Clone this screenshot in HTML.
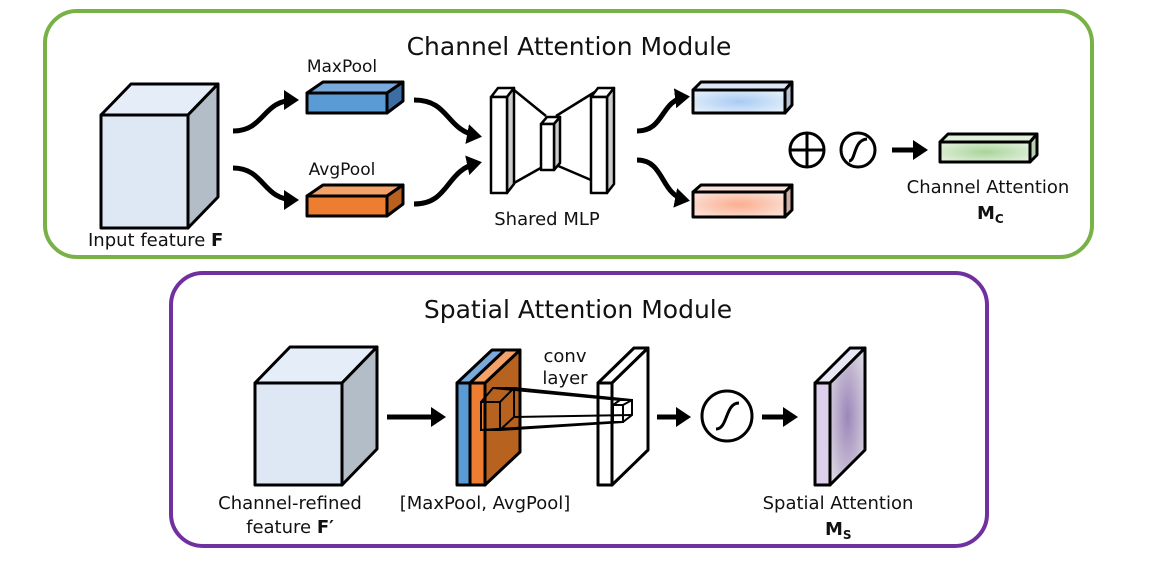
<!DOCTYPE html>
<html><head><meta charset="utf-8"><style>
html,body{margin:0;padding:0;background:#fff;}
svg{display:block;}
text{font-family:"DejaVu Sans","Liberation Sans",sans-serif;fill:#111;}
</style></head><body>
<svg width="1163" height="572" viewBox="0 0 1163 572" xmlns="http://www.w3.org/2000/svg">
<defs>
<marker id="ah" markerWidth="4" markerHeight="4" refX="2.2" refY="2" orient="auto" markerUnits="strokeWidth"><path d="M0,0 L3,2 L0,4 z" fill="#000"/></marker>
<radialGradient id="gb" cx="0.5" cy="0.5" r="0.6"><stop offset="0" stop-color="#a8cbf4"/><stop offset="1" stop-color="#e3eefa"/></radialGradient>
<radialGradient id="go" cx="0.5" cy="0.5" r="0.6"><stop offset="0" stop-color="#fbae8e"/><stop offset="1" stop-color="#fbe0d6"/></radialGradient>
<radialGradient id="gg" cx="0.5" cy="0.5" r="0.6"><stop offset="0" stop-color="#a9d49a"/><stop offset="1" stop-color="#e0f0da"/></radialGradient>
<radialGradient id="gp" cx="0.5" cy="0.5" r="0.6"><stop offset="0" stop-color="#9d86b8"/><stop offset="1" stop-color="#d8d4e0"/></radialGradient>
</defs>
<g stroke="#000" stroke-width="3" stroke-linejoin="round">
<rect x="45" y="11" width="1047" height="246" rx="32" fill="none" stroke="#78b145" stroke-width="4"/>
<rect x="171" y="273" width="816" height="273" rx="32" fill="none" stroke="#7030a0" stroke-width="4"/>

<polygon points="101,115 131,84 218,84 188,115" fill="#e5eef8"/>
<polygon points="188,115 218,84 218,197 188,228" fill="#b3bdc8"/>
<rect x="101" y="115" width="87" height="113" fill="#dde8f4"/>

<polygon points="307,93 323,82 403,82 387,93" fill="#7aa9dc"/>
<polygon points="387,93 403,82 403,101 387,113" fill="#3b6ea5"/>
<rect x="307" y="93" width="80" height="20" fill="#5b9bd5"/>
<polygon points="307,196 323,185 403,185 387,196" fill="#f4a269"/>
<polygon points="387,196 403,185 403,204 387,216" fill="#b8611f"/>
<rect x="307" y="196" width="80" height="20" fill="#ed7d31"/>
</g>
<g fill="none" stroke="#000" stroke-width="5">
<path d="M233,131 C265,131 262,100 295,100" marker-end="url(#ah)"/>
<path d="M233,168 C265,168 262,200 295,200" marker-end="url(#ah)"/>
<path d="M414,100 C450,100 445,130 478,136" marker-end="url(#ah)"/>
<path d="M414,204 C450,204 445,170 478,163" marker-end="url(#ah)"/>
<path d="M637,131 C665,131 660,100 686,97" marker-end="url(#ah)"/>
<path d="M637,160 C665,160 660,195 686,200" marker-end="url(#ah)"/>
<path d="M892,150 L924,150" marker-end="url(#ah)"/>
</g>
<g stroke="#000" stroke-width="2.5" fill="#fff" stroke-linejoin="round">
<line x1="514" y1="90" x2="546" y2="116"/><line x1="514" y1="183" x2="546" y2="165"/>
<line x1="556" y1="116" x2="598" y2="90"/><line x1="556" y1="165" x2="598" y2="183"/>
<polygon points="491,97 498,88 514,88 507,97"/><polygon points="507,97 514,88 514,184 507,193" fill="#ccc"/><rect x="491" y="97" width="16" height="96"/>
<polygon points="541,124 547,117 560,117 554,124"/><polygon points="554,124 560,117 560,163 554,170" fill="#ccc"/><rect x="541" y="124" width="13" height="46"/>
<polygon points="591,97 598,88 614,88 607,97"/><polygon points="607,97 614,88 614,184 607,193" fill="#ccc"/><rect x="591" y="97" width="16" height="96"/>
</g>
<g stroke="#000" stroke-width="3" stroke-linejoin="round">
<polygon points="693,90 701,82 792,82 785,90" fill="#dbe7f7"/><polygon points="785,90 792,82 792,105 785,113" fill="#b7c3d3"/><rect x="693" y="90" width="92" height="23" fill="url(#gb)"/>
<polygon points="693,192 701,185 792,185 785,192" fill="#fbe1d6"/><polygon points="785,192 792,185 792,210 785,217" fill="#cfaea3"/><rect x="693" y="192" width="92" height="25" fill="url(#go)"/>
<polygon points="940,142 948,134 1037,134 1030,142" fill="#e0f0da"/><polygon points="1030,142 1037,134 1037,155 1030,162" fill="#b9cfb1"/><rect x="940" y="142" width="90" height="20" fill="url(#gg)"/>
<circle cx="807" cy="150" r="17" fill="#fff"/><path d="M790,150 H824 M807,133 V167" fill="none"/>
<circle cx="858" cy="150" r="17" fill="#fff"/><path d="M849,161 C856,161 853,140 867,139" fill="none"/>
</g>
<text x="569" y="55" font-size="25" text-anchor="middle">Channel Attention Module</text>
<text x="342" y="72" font-size="17" text-anchor="middle">MaxPool</text>
<text x="342" y="175" font-size="17" text-anchor="middle">AvgPool</text>
<text x="547" y="225" font-size="18" text-anchor="middle">Shared MLP</text>
<text x="88" y="246" font-size="18">Input feature <tspan font-weight="bold">F</tspan></text>
<text x="988" y="193" font-size="18" text-anchor="middle">Channel Attention</text>
<text x="977" y="219" font-size="18" font-weight="bold">M<tspan font-size="12" dy="4">C</tspan></text>

<text x="578" y="318" font-size="25" text-anchor="middle">Spatial Attention Module</text>
<g stroke="#000" stroke-width="3" stroke-linejoin="round">
<polygon points="255,383 290,347 377,347 342,383" fill="#e5eef8"/>
<polygon points="342,383 377,347 377,449 342,485" fill="#b3bdc8"/>
<rect x="255" y="383" width="87" height="102" fill="#dde8f4"/>
<polygon points="485,383 520,350 520,452 485,485" fill="#b8621f"/>
<polygon points="457,383 492,350 505,350 470,383" fill="#7aa9dc"/>
<polygon points="470,383 505,350 520,350 485,383" fill="#f4a269"/>
<rect x="457" y="383" width="13" height="102" fill="#5b9bd5"/>
<rect x="470" y="383" width="15" height="102" fill="#ed7d31"/>
<polygon points="598,383 634,348 648,348 612,383" fill="#fff"/>
<polygon points="612,383 648,348 648,450 612,485" fill="#fff"/>
<rect x="598" y="383" width="14" height="102" fill="#fff"/>
<polygon points="815,383 850,348 865,348 830,383" fill="#ebe6f4"/>
<polygon points="830,383 865,348 865,450 830,485" fill="url(#gp)"/>
<rect x="815" y="383" width="15" height="102" fill="#ddd0ec"/>
</g>
<g stroke="#000" stroke-width="2" fill="none">
<rect x="481" y="402" width="19" height="28"/><path d="M481,402 L493,388 H514 V417 L500,430 M500,402 L514,388"/>
<rect x="613" y="405" width="10" height="17"/><path d="M613,405 L620,400 H632 V415 L623,422 M623,405 L632,400"/>
<line x1="493" y1="388" x2="620" y2="400"/><line x1="514" y1="388" x2="632" y2="400"/>
<line x1="481" y1="430" x2="613" y2="422"/><line x1="500" y1="430" x2="623" y2="422"/>
<line x1="514" y1="417" x2="632" y2="415"/>
</g>
<g fill="none" stroke="#000" stroke-width="5">
<path d="M387,417 L442,417" marker-end="url(#ah)"/>
<path d="M657,417 L687,417" marker-end="url(#ah)"/>
<path d="M762,417 L794,417" marker-end="url(#ah)"/>
</g>
<g stroke="#000" stroke-width="3" fill="#fff">
<circle cx="727" cy="416" r="25"/><path d="M716,429 C728,429 725,403 739,403" fill="none"/>
</g>
<text x="565" y="362" font-size="18" text-anchor="middle">conv</text>
<text x="565" y="384" font-size="18" text-anchor="middle">layer</text>
<text x="290" y="509" font-size="18" text-anchor="middle">Channel-refined</text>
<text x="290" y="533" font-size="18" text-anchor="middle">feature <tspan font-weight="bold">F′</tspan></text>
<text x="485" y="509" font-size="18" text-anchor="middle">[MaxPool, AvgPool]</text>
<text x="838" y="509" font-size="18" text-anchor="middle">Spatial Attention</text>
<text x="825" y="535" font-size="18" font-weight="bold">M<tspan font-size="12" dy="4">S</tspan></text>
</svg>
</body></html>
